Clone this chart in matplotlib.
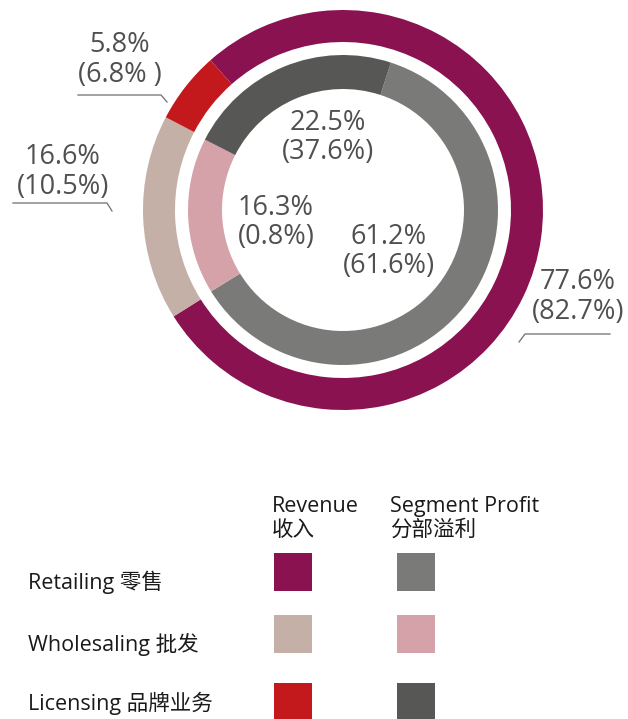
import matplotlib
matplotlib.use("Agg")
import matplotlib.pyplot as plt
from matplotlib.patches import Rectangle

plt.rcParams['font.family'] = ['Open Sans', 'Noto Sans CJK SC', 'DejaVu Sans']

# segment data
segments = ['Retailing 零售', 'Wholesaling 批发', 'Licensing 品牌业务']
revenue = [77.6, 16.6, 5.8]
revenue_prev = [82.7, 10.5, 6.8]
profit = [61.2, 16.3, 22.5]
profit_prev = [61.6, 0.8, 37.6]
revenue_colors = ['#8a1250', '#c4b0a7', '#c4191c']
profit_colors = ['#7a7a78', '#d6a2a9', '#575756']
col_titles = [('Revenue', '收入'), ('Segment Profit', '分部溢利')]

W, H = 628, 719
fig = plt.figure(figsize=(W / 100, H / 100), dpi=100)
ax = fig.add_axes([0, 0, 1, 1])

def Y(py):
    # pixel row -> data y (y axis points up)
    return H - py

cx, cy = 343, Y(210)
ax.pie(revenue, colors=revenue_colors, radius=200, center=(cx, cy),
       startangle=131.5, counterclock=False,
       wedgeprops=dict(width=32, edgecolor='none', linewidth=0))
ax.pie(profit, colors=profit_colors, radius=155, center=(cx, cy),
       startangle=72, counterclock=False,
       wedgeprops=dict(width=34, edgecolor='none', linewidth=0))

ax.set_xlim(0, W)
ax.set_ylim(0, H)
ax.set_aspect('equal', adjustable='box')
ax.axis('off')

lab_col = '#505050'
fs = 19.5

# outer labels with leader lines
out_pos = [(578, 282), (63, 157), (120, 45)]
out_lines = [
    [(519, 342), (525, 334), (610, 334)],
    [(13, 203), (107, 203), (112, 211)],
    [(78, 95), (161, 95), (167, 102)],
]
for i in range(3):
    x, y = out_pos[i]
    prev = '(%.1f%%)' % revenue_prev[i]
    if i == 2:
        prev = '(%.1f%% )' % revenue_prev[i]
    ax.text(x, Y(y), '%.1f%%' % revenue[i], ha='center', va='center',
            fontsize=fs, color=lab_col)
    ax.text(x, Y(y + 30), prev, ha='center', va='center',
            fontsize=fs, color=lab_col)
    xs = [p[0] for p in out_lines[i]]
    ys = [Y(p[1]) for p in out_lines[i]]
    ax.plot(xs, ys, color='#6d6d6d', lw=0.9)

# inner labels
in_pos = [(389, 237), (276, 208), (328, 123)]
for i in range(3):
    x, y = in_pos[i]
    ax.text(x, Y(y), '%.1f%%' % profit[i], ha='center', va='center',
            fontsize=fs, color=lab_col)
    ax.text(x, Y(y + 29), '(%.1f%%)' % profit_prev[i], ha='center',
            va='center', fontsize=fs, color=lab_col)

# legend table
txt_col = '#1a1a1a'
lfs = 15.5
for j, x in enumerate([272, 390]):
    ax.text(x, Y(512), col_titles[j][0], ha='left', va='baseline',
            fontsize=lfs, color=txt_col)
    ax.text(x, Y(536), col_titles[j][1], ha='left', va='baseline',
            fontsize=lfs, color=txt_col)
row_base = [589, 651, 710]
sq_top = [553, 615, 683]
for i in range(3):
    ax.text(28, Y(row_base[i]), segments[i], ha='left', va='baseline',
            fontsize=lfs, color=txt_col)
    ax.add_patch(Rectangle((274, Y(sq_top[i] + 38)), 38, 38,
                           color=revenue_colors[i], lw=0))
    ax.add_patch(Rectangle((397, Y(sq_top[i] + 38)), 38, 38,
                           color=profit_colors[i], lw=0))

fig.savefig('out.png', dpi=100)
